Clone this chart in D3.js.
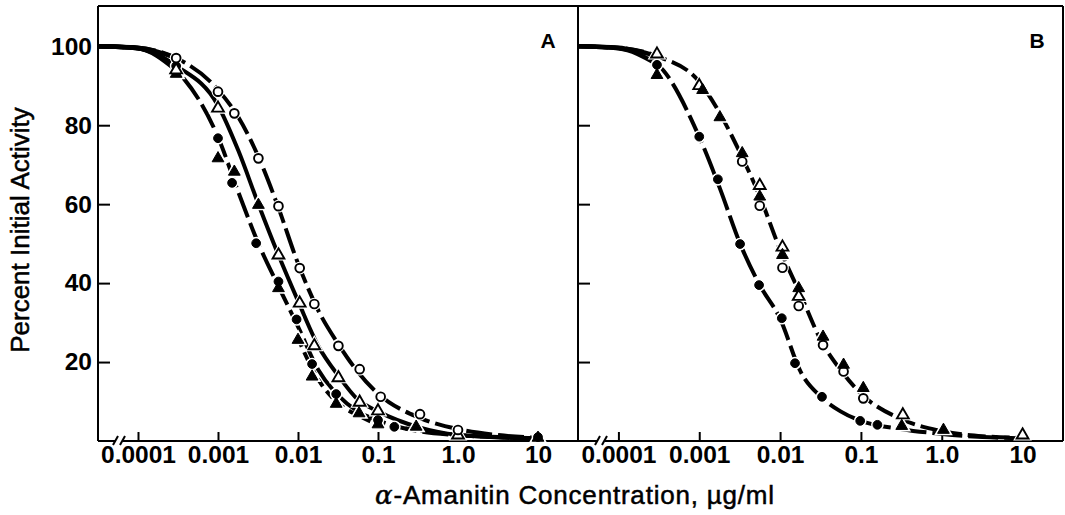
<!DOCTYPE html>
<html>
<head>
<meta charset="utf-8">
<script src="https://cdn.jsdelivr.net/npm/d3@7"></script>
<style>
  body { margin: 0; background: #fff; }
  svg text { font-family: "Liberation Sans", Arial, Helvetica, sans-serif; fill: #000; }
</style>
</head>
<body>
<svg id="chart" width="1065" height="515"></svg>
<script>
// axis ticks
const xTicks = [0.0001, 0.001, 0.01, 0.1, 1, 10];
const xTickLabels = ["0.0001", "0.001", "0.01", "0.1", "1.0", "10"];
const yTicks = [20, 40, 60, 80, 100];

// fitted curves at these concentrations (ug/ml)
const curveX = [0.0000316, 0.0001, 0.0003, 0.001, 0.0018, 0.0032, 0.0056, 0.01, 0.018, 0.032, 0.056, 0.1, 0.32, 1, 3.2, 10];

// panel A
const aCurveOpenCircle   = [100, 99.6, 97, 89, 82, 72, 59.5, 45, 33, 24.5, 17.5, 12, 6, 3, 1.5, 0.8];
const aCurveOpenTri      = [100, 99.5, 95, 85, 73.5, 60, 47.5, 35.5, 24, 16.5, 10.5, 7.5, 3.5, 1.5, 0.9, 0.6];
const aCurveFilledCircle = [100, 99.5, 94, 77, 63, 50, 39.5, 29, 18, 11.5, 7.5, 5.2, 2.5, 1.5, 1, 0.7];
const aCurveFilledTri    = [null, null, null, null, null, null, null, 26, 15.5, 9.5, 6.5, 4.3, 2.8, 1.5, 1, 0.7];

const aOpenCircle   = [[0.0003, 97], [0.001, 88.5], [0.0016, 83], [0.0032, 71.6], [0.0057, 59.5], [0.0105, 43.8], [0.016, 34.7], [0.032, 24.1], [0.059, 18.2], [0.108, 11.2], [0.335, 6.8], [1.0, 2.8]];
const aOpenTri      = [[0.0003, 94], [0.001, 84.3], [0.0057, 47.1], [0.0105, 34.9], [0.016, 24.1], [0.032, 16], [0.059, 9.8], [0.1, 7.6], [1.0, 1.5]];
const aFilledCircle = [[0.0003, 95], [0.001, 76.7], [0.0015, 65.4], [0.003, 50.1], [0.0057, 40.4], [0.0096, 30.8], [0.015, 19.5], [0.03, 11.9], [0.1, 5.3], [0.16, 3.6], [10, 1]];
const aFilledTri    = [[0.0003, 93], [0.001, 71.6], [0.0016, 68.2], [0.0032, 59.8], [0.0057, 38.7], [0.01, 25.6], [0.015, 16.3], [0.03, 9.4], [0.058, 7], [0.1, 4.2], [0.3, 3.6], [10, 0.8]];

// panel B
const bCurveFilledCircle = [100, 99.5, 95.5, 77, 64, 50, 39.5, 31, 17.5, 11.2, 7.5, 5.1, 3, 1.8, 1, 0.7];
const bCurveOthers       = [100, 99.6, 97.5, 91, 83, 73, 62, 48.5, 37, 25.5, 18, 12, 5.5, 2.5, 1.2, 0.8];

const bOpenCircle   = [[0.0034, 70.8], [0.0056, 59.6], [0.0107, 43.9], [0.017, 34.2], [0.034, 24.3], [0.061, 17.6], [0.107, 10.8]];
const bOpenTri      = [[0.0003, 98], [0.001, 90], [0.0056, 64.7], [0.0107, 49.1], [0.017, 36.6], [0.33, 6.6], [10, 1.5]];
const bFilledCircle = [[0.0003, 95.3], [0.001, 77.1], [0.0017, 66.3], [0.0032, 49.9], [0.0055, 39.5], [0.0105, 31.1], [0.0153, 19.7], [0.033, 11.2], [0.098, 5.1], [0.16, 4.1]];
const bFilledTri    = [[0.0003, 92.7], [0.0011, 88.9], [0.0018, 82], [0.0034, 72.9], [0.0056, 61.9], [0.0107, 47.1], [0.017, 38.7], [0.034, 26.4], [0.061, 19.3], [0.107, 13.4], [0.32, 3.8], [1.05, 2.8]];

let svg = d3.select("#chart");
let plotTop = 6, plotBottom = 441;
let headCut = 0.0003;

let panels = [
	{label: "A", left: 98, right: 578, labelX: 548, breakX: 120,
		curves: [
			{ys: aCurveOpenCircle, dash: "26 6"},
			{ys: aCurveOpenTri, dash: null},
			{ys: aCurveFilledCircle, dash: "26 6"},
			{ys: aCurveFilledTri, dash: "9 6"}
		],
		points: [
			{data: aFilledTri, type: d3.symbolTriangle, filled: true},
			{data: aFilledCircle, type: d3.symbolCircle, filled: true},
			{data: aOpenTri, type: d3.symbolTriangle, filled: false},
			{data: aOpenCircle, type: d3.symbolCircle, filled: false}
		]},
	{label: "B", left: 578, right: 1063, labelX: 1037, breakX: 602,
		curves: [
			{ys: bCurveFilledCircle, dash: "30 6"},
			{ys: bCurveOthers, dash: "18 6"}
		],
		points: [
			{data: bFilledCircle, type: d3.symbolCircle, filled: true},
			{data: bOpenCircle, type: d3.symbolCircle, filled: false},
			{data: bOpenTri, type: d3.symbolTriangle, filled: false},
			{data: bFilledTri, type: d3.symbolTriangle, filled: true}
		]}
];

let y = d3.scaleLinear().domain([0, 110.2]).range([plotBottom, plotTop]);

panels.forEach((p, pi) => {
	let x = d3.scaleLog().domain([10 ** -4.5, 10 ** 1.5]).range([p.left, p.right]);
	let g = svg.append("g");

	// x axis: ticks pointing up, labels under
	let xAxis = d3.axisBottom(x).tickValues(xTicks).tickSizeInner(-9).tickSizeOuter(0).tickPadding(5)
		.tickFormat((d, i) => xTickLabels[i]);
	let gx = g.append("g").attr("transform", "translate(0," + plotBottom + ")").call(xAxis);
	gx.select(".domain").remove();
	gx.selectAll(".tick line").attr("stroke-width", 2);
	gx.selectAll("text").attr("font-size", 24.5).attr("font-weight", "bold").attr("fill", "#000");

	// y axis: ticks pointing in
	let yAxis = d3.axisLeft(y).tickValues(yTicks).tickSizeInner(-12).tickSizeOuter(0).tickPadding(6);
	if (pi > 0) yAxis.tickFormat("");
	let gy = g.append("g").attr("transform", "translate(" + p.left + ",0)").call(yAxis);
	gy.select(".domain").remove();
	gy.selectAll(".tick line").attr("stroke-width", 2);
	gy.selectAll("text").attr("font-size", 24.5).attr("font-weight", "bold").attr("fill", "#000");

	// frame with the axis break
	let frame = g.append("g").attr("stroke", "#000").attr("stroke-width", 2).attr("fill", "none");
	frame.append("line").attr("x1", p.left).attr("x2", p.left).attr("y1", plotTop).attr("y2", plotBottom);
	frame.append("line").attr("x1", p.left).attr("x2", p.right).attr("y1", plotTop).attr("y2", plotTop);
	frame.append("line").attr("x1", p.right).attr("x2", p.right).attr("y1", plotTop).attr("y2", plotBottom);
	frame.append("line").attr("x1", p.left).attr("x2", p.breakX - 4).attr("y1", plotBottom).attr("y2", plotBottom);
	frame.append("line").attr("x1", p.breakX + 3).attr("x2", p.right).attr("y1", plotBottom).attr("y2", plotBottom);
	frame.append("line").attr("x1", p.breakX - 7).attr("y1", plotBottom + 4).attr("x2", p.breakX - 2).attr("y2", plotBottom - 5);
	frame.append("line").attr("x1", p.breakX).attr("y1", plotBottom + 4).attr("x2", p.breakX + 5).attr("y2", plotBottom - 5);

	g.append("text").attr("x", p.labelX).attr("y", 48).attr("text-anchor", "middle")
		.attr("font-size", 21).attr("font-weight", "bold").text(p.label);

	// curves
	let line = d3.line().defined(d => d[1] != null).x(d => x(d[0])).y(d => y(d[1])).curve(d3.curveMonotoneX);
	p.curves.forEach(c => {
		let pts = curveX.map((cx, i) => [cx, c.ys[i]]);
		g.append("path").attr("d", line(pts)).attr("fill", "none").attr("stroke", "#000")
			.attr("stroke-width", 4).attr("stroke-dasharray", c.dash);
		let head = pts.filter(d => d[0] <= headCut && d[1] != null);
		if (head.length > 1) {
			g.append("path").attr("d", line(head)).attr("fill", "none").attr("stroke", "#000")
				.attr("stroke-width", 4.5);
		}
	});

	// markers: white halo first so the lines break at each point
	let sym = d3.symbol().size(60);
	p.points.forEach(s => {
		g.selectAll(null).data(s.data).enter().append("path")
			.attr("transform", d => "translate(" + x(d[0]) + "," + y(d[1]) + ")")
			.attr("d", sym.type(s.type)())
			.attr("fill", "#fff").attr("stroke", "#fff").attr("stroke-width", 4);
	});
	p.points.forEach(s => {
		g.selectAll(null).data(s.data).enter().append("path")
			.attr("transform", d => "translate(" + x(d[0]) + "," + y(d[1]) + ")")
			.attr("d", sym.type(s.type)())
			.attr("fill", s.filled ? "#000" : "#fff").attr("stroke", "#000").attr("stroke-width", s.filled ? 1 : 1.9);
	});
});

svg.append("text").attr("transform", "translate(29,230) rotate(-90)").attr("text-anchor", "middle")
	.attr("font-size", 26).attr("stroke", "#000").attr("stroke-width", 0.5).text("Percent Initial Activity");

let xt = svg.append("text").attr("x", 575).attr("y", 504).attr("text-anchor", "middle").attr("font-size", 26)
	.attr("letter-spacing", 0.8).attr("stroke", "#000").attr("stroke-width", 0.5);
xt.append("tspan").attr("font-style", "italic").attr("font-family", "DejaVu Serif, serif").text("\u03b1");
xt.append("tspan").text("-Amanitin Concentration, \u00b5g/ml");
</script>
</body>
</html>
